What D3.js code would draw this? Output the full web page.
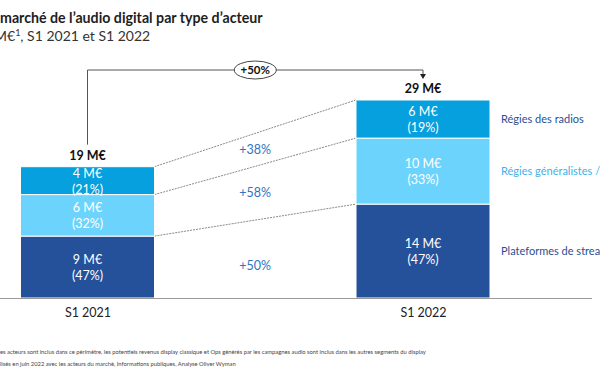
<!DOCTYPE html>
<html>
<head>
<meta charset="utf-8">
<script src="https://cdn.jsdelivr.net/npm/d3@7"></script>
<style>
  body { margin: 0; background: #fff; }
  svg { display: block; font-family: Lato, "Open Sans", sans-serif; }
</style>
</head>
<body>
<svg width="600" height="372"></svg>
<script>
// data (M€)
let categories = ["S1 2021", "S1 2022"];
let series = ["Plateformes de streaming", "Régies généralistes / régies", "Régies des radios"];
let legendLabels = ["Plateformes de streaming", "Régies généralistes / régies", "Régies des radios"];
let streaming = [9.1, 13.8];
let generalistes = [6.1, 9.7];
let radios = [4.1, 5.6];
let valueLabels = [["9 M€", "14 M€"], ["6 M€", "10 M€"], ["4 M€", "6 M€"]];
let pctLabels = [["(47%)", "(47%)"], ["(32%)", "(33%)"], ["(21%)", "(19%)"]];
let totalLabels = ["19 M€", "29 M€"];
let growthLabels = ["+50%", "+58%", "+38%"];
let totalGrowth = "+50%";

let colors = ["#25519b", "#6cd4fc", "#05a0dd"];
let legendColors = ["#2a4f93", "#3cb2ea", "#2a4f93"];

let svg = d3.select("svg");

// titles (left part is cut in the source)
svg.append("text").attr("x", 0).attr("y", 23)
  .attr("font-size", 14.2).attr("font-weight", "bold").attr("fill", "#1e1e1e")
  .text("marché de l’audio digital par type d’acteur");
svg.append("text").attr("x", -6).attr("y", 41)
  .attr("font-size", 14).attr("fill", "#333")
  .html("M€<tspan dy='-5' font-size='9'>1</tspan><tspan dy='5'>, S1 2021 et S1 2022</tspan>");

// scales
let barW = 134;
let xScale = d3.scalePoint().domain(categories).range([87.5, 423]);
let yScale = d3.scaleLinear().domain([0, 29.1]).range([298, 100]);

// stack
let table = categories.map((c, i) => ({
  cat: c,
  [series[0]]: streaming[i],
  [series[1]]: generalistes[i],
  [series[2]]: radios[i]
}));
let stacked = d3.stack().keys(series)(table);

// dashed connectors between bars
stacked.forEach(layer => {
  let a = layer[0], b = layer[1];
  svg.append("line")
    .attr("x1", xScale(categories[0]) + barW / 2).attr("y1", yScale(a[1]))
    .attr("x2", xScale(categories[1]) - barW / 2).attr("y2", yScale(b[1]))
    .attr("stroke", "#8a8a8a").attr("stroke-width", 1).attr("stroke-dasharray", "2,1");
});

// bars
let groups = svg.selectAll("g.layer")
  .data(stacked)
  .enter().append("g")
  .attr("class", "layer")
  .attr("fill", (d, i) => colors[i]);

groups.selectAll("rect")
  .data(d => d)
  .enter().append("rect")
  .attr("x", d => xScale(d.data.cat) - barW / 2)
  .attr("y", d => yScale(d[1]))
  .attr("width", barW)
  .attr("height", d => yScale(d[0]) - yScale(d[1]))
  .attr("stroke", "#fff").attr("stroke-width", 1);

// labels inside bars
stacked.forEach((layer, li) => {
  layer.forEach((d, ci) => {
    let cx = xScale(d.data.cat);
    let cy = (yScale(d[0]) + yScale(d[1])) / 2;
    svg.append("text").attr("x", cx).attr("y", cy - 3)
      .attr("text-anchor", "middle").attr("font-size", 12.5).attr("fill", "#fff")
      .text(valueLabels[li][ci]);
    svg.append("text").attr("x", cx).attr("y", cy + 13)
      .attr("text-anchor", "middle").attr("font-size", 12.5).attr("fill", "#fff")
      .text(pctLabels[li][ci]);
  });
});

// growth labels between bars
let midX = (xScale(categories[0]) + xScale(categories[1])) / 2;
stacked.forEach((layer, li) => {
  let a = layer[0], b = layer[1];
  let yTop = (yScale(a[1]) + yScale(b[1])) / 2;
  let yBot = (yScale(a[0]) + yScale(b[0])) / 2;
  svg.append("text").attr("x", midX).attr("y", (yTop + yBot) / 2 + 4 + (li === 0 ? 7 : 0))
    .attr("text-anchor", "middle").attr("font-size", 12.5).attr("fill", "#2f74c0")
    .text(growthLabels[li]);
});

// totals
let totals = categories.map((c, i) => streaming[i] + generalistes[i] + radios[i]);
categories.forEach((c, i) => {
  svg.append("text").attr("x", xScale(c)).attr("y", yScale(totals[i]) - 7)
    .attr("text-anchor", "middle").attr("font-size", 12.5).attr("font-weight", "bold").attr("fill", "#111")
    .text(totalLabels[i]);
});

// total growth bracket
let bracketY = 70;
let x0 = xScale(categories[0]), x1 = xScale(categories[1]);
svg.append("path")
  .attr("d", `M${x0},${yScale(totals[0]) - 22}V${bracketY}H${x1}V${yScale(totals[1]) - 25}`)
  .attr("fill", "none").attr("stroke", "#555").attr("stroke-width", 1);
svg.append("path")
  .attr("d", `M${x1 - 3},${yScale(totals[1]) - 26}L${x1 + 3},${yScale(totals[1]) - 26}L${x1},${yScale(totals[1]) - 21}Z`)
  .attr("fill", "#222");
svg.append("ellipse").attr("cx", midX).attr("cy", bracketY).attr("rx", 21).attr("ry", 9)
  .attr("fill", "#fff").attr("stroke", "#444").attr("stroke-width", 1);
svg.append("text").attr("x", midX).attr("y", bracketY + 4)
  .attr("text-anchor", "middle").attr("font-size", 11.5).attr("font-weight", "bold").attr("fill", "#111")
  .text(totalGrowth);

// axis baseline + category labels
let xAxis = d3.axisBottom(xScale).tickSize(0).tickPadding(8);
let axisG = svg.append("g").attr("transform", `translate(0,${yScale(0)})`).call(xAxis);
axisG.select(".domain").attr("d", "M0,0.5H592").attr("stroke", "#999");
axisG.selectAll("text").attr("font-size", 12.5).attr("fill", "#222")
  .attr("font-family", "Lato, sans-serif").attr("dy", "0.9em");

// legend on the right, aligned with 2022 segments (cut at the edge as in the source)
stacked.forEach((layer, li) => {
  let d = layer[1];
  svg.append("text").attr("x", 501).attr("y", (yScale(d[0]) + yScale(d[1])) / 2 + 4)
    .attr("font-size", 11).attr("fill", legendColors[li])
    .text(legendLabels[li]);
});

// footnotes
let notes = [
  "es acteurs sont inclus dans ce périmètre, les potentiels revenus display classique et Ops générés par les campagnes audio sont inclus dans les autres segments du display",
  "lisés en juin 2022 avec les acteurs du marché, Informations publiques, Analyse Oliver Wyman"
];
notes.forEach((t, i) => {
  svg.append("text").attr("x", 0).attr("y", 354 + i * 12)
    .attr("font-size", 5.8).attr("fill", "#444").text(t);
});
</script>
</body>
</html>
